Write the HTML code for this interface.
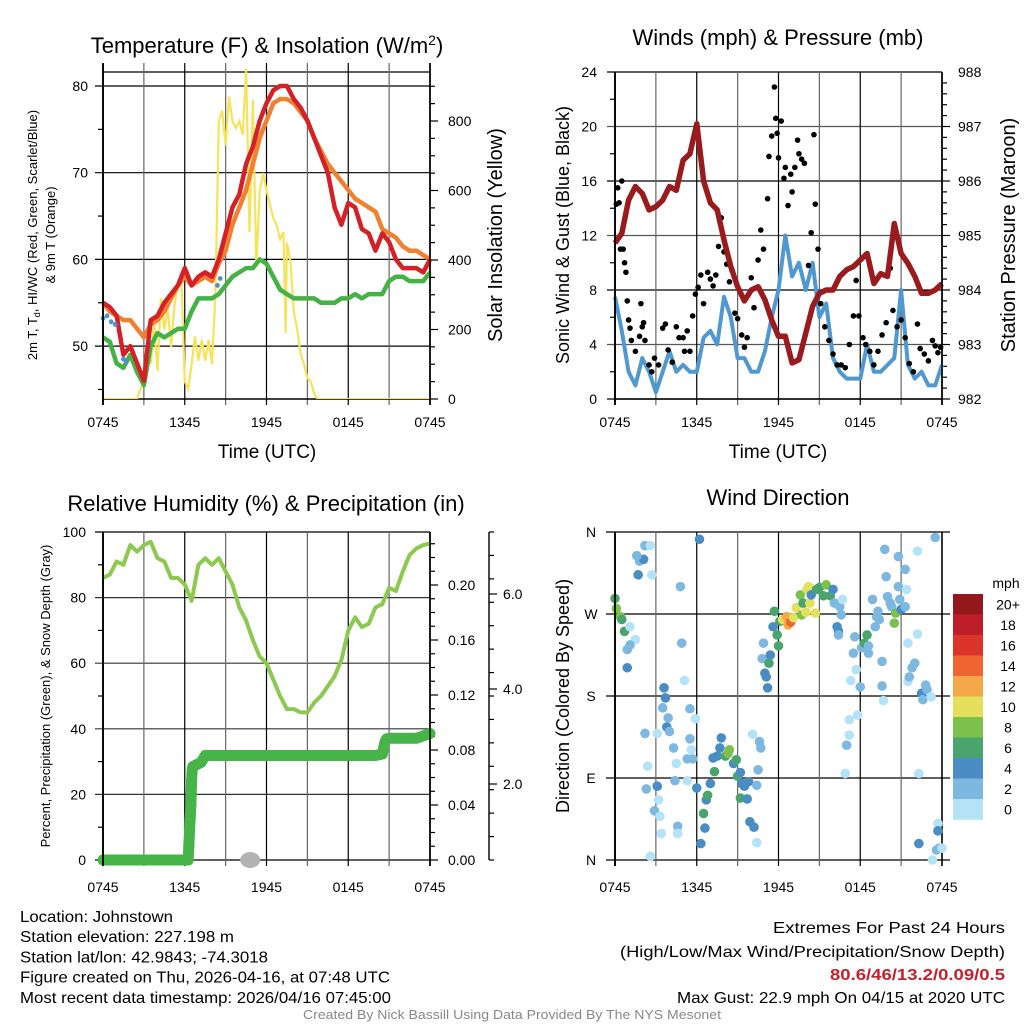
<!DOCTYPE html>
<html><head><meta charset="utf-8"><style>
html,body{margin:0;padding:0;background:#fff;}
svg{display:block;font-family:"Liberation Sans",sans-serif;}
.ft{font-family:"Liberation Sans Narrow","Liberation Sans",sans-serif;}
</style></head><body>
<svg id="chart" xmlns="http://www.w3.org/2000/svg" width="1024" height="1024" viewBox="0 0 1024 1024"></svg>
<script>
// ---------- DATA ----------
const halfHours = [0,0.5,1,1.5,2,2.5,3,3.5,4,4.5,5,5.5,6,6.5,7,7.5,8,8.5,9,9.5,10,10.5,11,11.5,12,12.5,13,13.5,14,14.5,15,15.5,16,16.5,17,17.5,18,18.5,19,19.5,20,20.5,21,21.5,22,22.5,23,23.5,24];
const timeTickLabels = ["0745","1345","1945","0145","0745"];
const tempRed = [55,54.5,53.5,49,50,48,46,53,53.5,55,56,57,59,57,58,58.5,58,60,63,66,67.5,71,73,76,78,79.5,80,80,78.5,77.5,76,74,72,70,66,64,66.5,66,63.5,63,61,63,62,60,59,59,59,58.5,60];
const temp9m = [55,54,53.5,53,53,52,51,52.5,53,54,55.5,57,58,57,57.5,58,57.5,59.5,61,64,66,68,71,74,76,78,78.5,78.5,78,77,76,74,72.5,71,70,69,68,67,66.5,66,65.5,63.5,63,62.5,61.5,61,61,60.5,60];
const dewGreen = [51,50.5,48,47.5,49,47,45.5,50,51.5,51,51.5,52,52,54,55.5,55.5,55.5,56,57,58,58.5,59,59,60,59.5,58,56.5,56,55.5,55.5,55.5,55.5,55,55,55,55.5,55.5,56,55.5,56,56,56,57.5,58,58,57.5,57.5,57.5,58.5];
const hiwcHours = [0,0.3,0.6,0.9,1.5,1.7,8.4,8.6];
const hiwcBlue = [53.2,53.5,52.8,52.5,48.5,48.2,57,57.8];
const solarHours = [0,2.5,2.75,3,3.25,3.5,3.75,4,4.25,4.5,4.75,5,5.25,5.5,5.75,6,6.25,6.5,6.75,7,7.25,7.5,7.75,8,8.25,8.5,8.75,9,9.25,9.5,9.75,10,10.25,10.5,10.75,11,11.25,11.5,11.75,12,12.25,12.5,12.75,13,13.25,13.4,13.5,13.75,14,14.25,14.5,14.75,15,15.25,15.5,15.75,24];
const solarYellow = [0,0,30,50,150,100,220,80,290,200,260,150,270,330,350,50,30,100,180,110,170,110,170,100,300,800,830,730,870,800,780,800,760,950,480,860,380,600,650,600,560,520,500,460,480,190,450,400,250,200,130,100,60,50,15,0,0];
const pressMaroon = [984.86,985.04,985.65,985.9,985.77,985.47,985.53,985.65,985.9,985.83,986.38,986.5,987.05,986.0,985.6,985.47,984.92,984.43,984.06,983.8,984.0,984.06,983.82,983.45,983.15,983.15,982.66,982.72,983.21,983.7,983.94,984.0,984.0,984.25,984.37,984.43,984.55,984.67,984.12,984.3,984.25,985.22,984.67,984.49,984.25,983.94,983.94,984.0,984.12];
const windBlue = [7.5,5,2,1,3,2,0.5,2,3.5,2,2.5,2,2,4.5,5,4,7.5,6,3,3,2,2,3.5,6,8,12,9,10,8,10,6,7,3,2,1.5,1.5,1.5,4,2,2,2.5,3,8,2.5,1.5,2,1,1,2.5];
const gustHours = [0.1,0.2,0.3,0.4,0.5,0.6,0.7,0.8,0.9,1.0,1.1,1.2,1.5,1.8,1.9,2.0,2.1,2.2,2.5,2.7,2.9,3.2,3.5,3.7,3.9,4.2,4.5,4.7,5.0,5.1,5.3,5.5,5.7,5.9,6.1,6.3,6.5,6.8,7.0,7.2,7.4,7.6,7.8,8.0,8.2,8.4,8.6,8.8,9.0,9.3,9.5,9.7,10.0,10.2,10.5,10.7,10.9,11.2,11.3,11.5,11.7,11.8,11.9,12.0,12.2,12.4,12.5,12.7,12.9,13.0,13.2,13.4,13.5,13.7,13.9,14.2,14.4,14.6,14.7,14.9,15.1,15.4,15.7,16.0,16.3,16.6,16.9,17.2,17.5,17.7,17.9,18.2,18.4,18.7,19.0,19.3,19.6,19.9,20.2,20.4,20.7,21.0,21.3,21.6,21.9,22.2,22.4,22.7,23.0,23.3,23.5,23.7,23.9];
const gustBlack = [14.3,15.5,14.4,11,16,11,10,9.3,7.2,5.8,5.2,4.3,3.5,4.6,7,5.3,5.6,4.3,2.5,2,3,2.5,5.2,5.5,3.6,2.7,5.3,4.5,4.5,3.5,5,3.5,6.1,7.7,8.2,9.1,7.0,9.3,8.8,8.3,9.1,11.2,13.3,10.8,9.9,8.6,9.4,6.3,5.9,4.7,3.8,4.5,8.9,6.7,10.2,12.4,11,14.7,17.8,19.3,22.9,20.6,19.5,17.7,20.4,16.2,17,14.2,16.5,15.2,17,19,18,17.6,17.3,9.8,12.2,19.4,14.3,11,7,5.3,4.3,3.3,2.5,2.5,2.3,4,6.1,8.7,6.1,4.5,4,3.5,2.5,3.5,4.7,5.6,9.6,6.5,5.3,5.8,4.5,2.6,2,5.5,3.7,3.3,2.8,4.3,3.9,3.4,3.8];
const rhGreen = [86,87,91,90,96,94,96,97,92,91,86,86,84,79,90,92,90,92,88,84,77,73,67,62,60,55,50,46,46,45,45,48,50,53,56,61,70,74,71,72,77,78,83,82,88,93,95,96,96.5];
const precipHours = [0,0.5,1,1.5,2,2.5,3,3.5,4,4.5,5,5.5,6,6.25,6.3,6.35,6.4,6.45,6.5,6.55,6.6,6.8,7.0,7.2,7.5,8,9,10,11,12,13,14,15,16,17,18,19,20,20.5,20.6,20.7,20.8,21,22,23,24];
const precipIn = [0,0,0,0,0,0,0,0,0,0,0,0,0,0,0.010,0.021,0.030,0.040,0.058,0.066,0.068,0.069,0.070,0.071,0.076,0.076,0.076,0.076,0.076,0.076,0.076,0.076,0.076,0.076,0.076,0.076,0.076,0.076,0.077,0.082,0.086,0.088,0.0885,0.0885,0.0885,0.092];
const snowHours = [10.8];
const snowDepth = [0];
const dirHours = [0,0.1,0.4,0.5,0.7,1.1,1.5,1.1,0.9,0.9,1.7,1.8,2.1,1.6,2.2,2.6,2.7,2.2,2.4,2.3,3.1,2.9,3.2,3.3,3.4,2.6,3.1,3.5,3.7,3.8,4.0,3.9,3.6,4.3,4.5,4.4,4.8,4.9,5.1,5.3,4.6,4.6,5.5,5.5,5.6,5.3,5.7,5.9,6.0,6.2,6.3,6.5,6.6,6.7,6.8,7.0,7.2,7.3,7.5,7.7,7.8,8.1,8.3,8.4,8.7,8.9,9.0,9.2,9.3,9.5,9.8,9.2,9.7,9.9,10.2,10.4,10.1,10.6,10.7,10.5,10.4,11.2,11.1,11.0,10.9,10.8,11.3,11.4,11.6,11.7,11.9,12.0,12.1,12.3,12.6,12.7,12.9,13.1,13.3,13.6,13.7,14.0,14.1,14.2,13.8,14.3,14.4,14.7,14.8,15.0,15.3,15.5,15.8,16.0,16.1,16.5,16.6,16.7,16.3,16.4,16.4,17.6,17.5,17.7,17.3,18.0,17.8,17.2,17.2,17.0,16.9,18.1,18.3,18.5,18.6,18.6,18.9,19.1,19.2,19.3,19.4,19.6,19.6,19.7,19.8,19.9,20.0,20.2,20.3,20.5,20.6,20.8,20.8,20.9,21.0,21.3,21.3,21.4,21.5,21.8,21.5,21.6,22.0,22.2,22.2,22.3,22.3,22.5,22.6,22.8,22.9,23.2,23.5,23.7,23.7,23.6,23.8,23.3,24.0];
const dirDeg = [287,276,267,264,251,256,242,236,231,211,313,328,330,334,345,345,313,139,103,78,81,54,66,48,29,4,139,167,178,146,141,156,189,123,106,87,300,238,197,87,37,29,166,133,121,111,111,155,79,352,18,51,35,66,71,84,112,97,114,123,134,114,117,121,106,110,92,96,84,81,86,68,67,42,36,19,138,130,123,99,82,189,201,205,238,221,216,225,256,273,247,235,262,264,267,258,261,266,277,291,269,272,297,300,282,282,291,271,297,299,290,302,290,297,282,278,269,286,256,251,247,245,227,209,197,190,159,154,137,126,95,233,238,247,235,227,286,256,267,273,264,218,191,175,341,311,289,282,278,260,271,300,333,286,275,319,278,297,238,211,196,201,216,248,339,95,18,183,176,192,187,179,354,40,32,11,13,0,13];
const dirSpeed = [7,8,8,6,6,1,0,2,2,4,4,3,4,2,2,0,0,2,0,2,4,2,0,0,0,0,0,2,4,4,2,2,4,2,0,2,2,2,0,0,2,0,2,2,0,2,2,0,4,4,4,6,4,4,6,4,4,6,4,4,4,6,8,8,4,6,6,4,4,4,4,6,4,4,4,0,0,2,2,2,2,4,4,4,2,2,6,4,4,6,6,6,6,10,12,12,14,10,10,8,8,10,10,10,6,10,4,10,6,6,6,8,6,4,2,2,2,0,4,4,2,2,2,0,0,2,0,0,0,2,0,2,6,6,2,2,2,2,2,2,2,2,2,0,2,2,2,2,2,8,8,2,2,2,4,2,2,0,0,2,0,2,2,0,0,0,4,4,2,2,2,0,2,0,4,2,2,0,0];
const speedBinLabels = ["0","2","4","6","8","10","12","14","16","18","20+"];
const speedColors = ["#b4e3f8","#7db8e1","#4a8dc4","#4aa46e","#7bc14b","#e5e05b","#f5a847","#ee6531","#db3529","#be1e27","#93181b"];

// ---------- HELPERS ----------
const NS = "http://www.w3.org/2000/svg";
const svg = document.getElementById("chart");
function mk(tag, attrs, parent, txt){
  const e = document.createElementNS(NS, tag);
  for (const k in attrs) e.setAttribute(k, attrs[k]);
  if (txt !== undefined) e.textContent = txt;
  (parent || svg).appendChild(e);
  return e;
}
function grp(name){
  const g = mk("g", {});
  
  
  return g;
}
function text(parent, name, x, y, s, size, anchor, extra){
  const a = Object.assign({x:x, y:y, "font-size":size, "text-anchor":anchor||"middle", fill:"#000"}, extra||{});
  const t = mk("text", a, parent, s);
  
  
  return t;
}
function line(parent, name, x1, y1, x2, y2, stroke, w){
  const l = mk("line", {x1:x1, y1:y1, x2:x2, y2:y2, stroke:stroke||"#000", "stroke-width":w||1.2}, parent);
  
  
  return l;
}
function pathFrom(xs, ys, fx, fy){
  return xs.map((v,i)=>(i?"L":"M")+fx(v).toFixed(1)+","+fy(ys[i]).toFixed(1)).join("");
}
function timeAxis(g, L, R, T, B, ext, labelY){
  const sx = h => L + h*(R-L)/24;
  for (let h=0; h<=24; h+=3){
    const gray = (h%6===3) ? "#666" : "#000";
    line(g, "x-gridline", sx(h), T-ext, sx(h), B+6, h===0||h===24?"#000":gray, h===0||h===24?1.6:1.2);
  }
  timeTickLabels.forEach((s,i)=>text(g, "x-tick-label", sx(i*6), labelY, s, 14));
  return sx;
}

// ---------- PANEL 1: TEMPERATURE ----------
(function(){
  const g = grp("temperature-panel");
  const L=103,R=430,T=72,B=399;
  const ty = v => 86 + (80 - v)*8.67;
  const sy = v => B - v*0.3475;
  const tt = text(g, "temperature-title", 267, 53, "Temperature (F) & Insolation (W/m", 22);
  const sup = mk("tspan", {dy:-8, "font-size":14}, tt, "2");  
  const cl = mk("tspan", {dy:8}, tt, ")");  
  [80,70,60,50].forEach(v=>{ line(g,"y-gridline",95,ty(v),R,ty(v)); text(g,"y-tick-label",88,ty(v)+5,String(v),14,"end"); });
  for (let v=45; v<=80; v+=5) if (v%10) line(g,"y-minor-tick",98,ty(v),L,ty(v));
  line(g,"plot-top",L,T,R,T);
  const sx = timeAxis(g, L, R, T, B, 9, 427);
  line(g,"plot-bottom",L,B,R,B,"#000",1.4);
  for (let v=0; v<=900; v+=50){ line(g,"right-tick",R,sy(v),R+(v%200===0?8:5),sy(v)); }
  [0,200,400,600,800].forEach(v=>text(g,"right-tick-label",448,sy(v)+5,String(v),14,"start"));
  text(g,"x-axis-title",267,458,"Time (UTC)",19);
  const yl = text(g,"y-axis-title",0,0,"2m T, T",13,"middle",{transform:"translate(37,235) rotate(-90)"});
  const sub = mk("tspan",{"font-size":9,dy:3},yl,"d");  
  const rest = mk("tspan",{dy:-3},yl,", HI/WC (Red, Green, Scarlet/Blue)");  
  text(g,"y-axis-title-line2",0,0,"& 9m T (Orange)",13,"middle",{transform:"translate(55,235) rotate(-90)"});
  text(g,"right-axis-title",0,0,"Solar Insolation (Yellow)",20,"middle",{transform:"translate(502,235) rotate(-90)"});
  const clip = mk("clipPath",{id:"c1"},g); mk("rect",{x:L,y:T-10,width:R-L,height:B-T+10},clip);
  const p1 = mk("path",{d:pathFrom(solarHours,solarYellow,sx,sy),fill:"none",stroke:"#f7e35a","stroke-width":2.2,"clip-path":"url(#c1)"},g);
   
  const p2 = mk("path",{d:pathFrom(halfHours,dewGreen,sx,ty),fill:"none",stroke:"#45b246","stroke-width":4.5,"stroke-linejoin":"round"},g);
   
  const p3 = mk("path",{d:pathFrom(halfHours,temp9m,sx,ty),fill:"none",stroke:"#f0812f","stroke-width":4.5,"stroke-linejoin":"round"},g);
   
  const p4 = mk("path",{d:pathFrom(halfHours,tempRed,sx,ty),fill:"none",stroke:"#d42027","stroke-width":4.5,"stroke-linejoin":"round"},g);
   
  hiwcHours.forEach((h,i)=>{ const c=mk("circle",{cx:sx(h),cy:ty(hiwcBlue[i]),r:2.4,fill:"#4b93cf"},g);   });
  line(g,"plot-left",L,T-9,L,B+6,"#000",1.8);
  line(g,"plot-right",R,T-9,R,B+6,"#000",1.4);
})();

// ---------- PANEL 2: WINDS ----------
(function(){
  const g = grp("winds-panel");
  const L=615,R=942,T=72,B=399;
  const wy = v => B - v*(B-T)/24;
  const py = v => B - (v-982)*(B-T)/6;
  text(g,"winds-title",778,45,"Winds (mph) & Pressure (mb)",22);
  for (let v=0; v<=24; v+=4){ line(g,"y-gridline",607,wy(v),R,wy(v), v%8===4?"#555":"#000"); text(g,"y-tick-label",597,wy(v)+5,String(v),14,"end"); }
  for (let v=2; v<24; v+=4) line(g,"y-minor-tick",610,wy(v),L,wy(v));
  const sx = timeAxis(g, L, R, T, B, 0, 427);
  for (let v=982; v<=988; v+=0.2){ line(g,"right-tick",R,py(v),R+(Math.abs(v-Math.round(v))<0.01?8:5),py(v)); }
  for (let v=982; v<=988; v++) text(g,"right-tick-label",958,py(v)+5,String(v),14,"start");
  text(g,"x-axis-title",778,458,"Time (UTC)",19);
  text(g,"y-axis-title",0,0,"Sonic Wind & Gust (Blue, Black)",18,"middle",{transform:"translate(569,235) rotate(-90)"});
  text(g,"right-axis-title",0,0,"Station Pressure (Maroon)",20,"middle",{transform:"translate(1015,235) rotate(-90)"});
  const p1 = mk("path",{d:pathFrom(halfHours,windBlue,sx,wy),fill:"none",stroke:"#4f98d0","stroke-width":4,"stroke-linejoin":"round"},g);
   
  gustHours.forEach((h,i)=>{ const c=mk("circle",{cx:sx(h),cy:wy(gustBlack[i]),r:2.8,fill:"#000"},g);   });
  const p2 = mk("path",{d:pathFrom(halfHours,pressMaroon,sx,py),fill:"none",stroke:"#9a1b1e","stroke-width":5.5,"stroke-linejoin":"round"},g);
   
  line(g,"plot-left",L,T,L,B+6,"#000",1.8);
  line(g,"plot-right",R,T,R,B+6,"#000",1.4);
  line(g,"plot-bottom",L,B,R,B,"#000",1.4);
})();

// ---------- PANEL 3: RH & PRECIP ----------
(function(){
  const g = grp("humidity-panel");
  const L=103,R=430,T=532,B=860;
  const ry = v => B - v*(B-T)/100;
  const py = v => B - v*1375;
  text(g,"humidity-title",266,511,"Relative Humidity (%) & Precipitation (in)",22);
  for (let v=0; v<=100; v+=20){ line(g,"y-gridline",95,ry(v),R,ry(v), v===0||v===100?"#000":"#333"); text(g,"y-tick-label",86,ry(v)+5,String(v),14,"end"); }
  for (let v=10; v<100; v+=20) line(g,"y-minor-tick",98,ry(v),L,ry(v));
  const sx = timeAxis(g, L, R, T, B, 0, 892);
  for (let v=0; v<=0.24; v+=0.01){ const k=Math.round(v*100); line(g,"right-tick",R,py(v),R+(k%4===0?8:5),py(v)); }
  ["0.00","0.04","0.08","0.12","0.16","0.20"].forEach((s,i)=>text(g,"precip-tick-label",448,py(i*0.04)+5,s,14,"start"));
  line(g,"snow-axis",489,T,489,B,"#000",1.4);
  for (let i=0;i<=14;i++){ const y=B - i*(B-T)/14; line(g,"snow-tick",489,y,494,y); }
  [["2.0",789],["4.0",694],["6.0",599]].forEach(a=>{ line(g,"snow-major-tick",489,a[1]-5,497,a[1]-5); text(g,"snow-tick-label",503,a[1],a[0],14,"start"); });
  text(g,"y-axis-title",0,0,"Percent, Precipitation (Green), & Snow Depth (Gray)",13,"middle",{transform:"translate(50,696) rotate(-90)"});
  const p1 = mk("path",{d:pathFrom(halfHours,rhGreen,sx,ry),fill:"none",stroke:"#8cc94f","stroke-width":4,"stroke-linejoin":"round"},g);
   
  const p2 = mk("path",{d:pathFrom(precipHours,precipIn,sx,py),fill:"none",stroke:"#46b448","stroke-width":11,"stroke-linejoin":"round","stroke-linecap":"round"},g);
   
  precipHours.forEach((h,i)=>{ if(h>=6.25 && h<=6.6){ const c=mk("circle",{cx:sx(h),cy:py(precipIn[i]),r:5.5,fill:"#46b448"},g);   }});
  snowHours.forEach((h,i)=>{ const c=mk("ellipse",{cx:sx(h),cy:py(snowDepth[i]),rx:10,ry:8,fill:"#b3b3b3"},g);   });
  line(g,"plot-left",L,T,L,B+6,"#000",1.8);
  line(g,"plot-right",R,T,R,B+6,"#000",1.4);
})();

// ---------- PANEL 4: WIND DIRECTION ----------
(function(){
  const g = grp("wind-direction-panel");
  const L=615,R=942,T=532,B=860;
  const dy = v => B - v*(B-T)/360;
  text(g,"wind-direction-title",778,505,"Wind Direction",22);
  [["N",0],["E",90],["S",180],["W",270],["N",360]].forEach(a=>{ line(g,"y-gridline",606,dy(a[1]),950,dy(a[1])); text(g,"y-tick-label",591,dy(a[1])+5,a[0],14,"middle"); });
  const sx = timeAxis(g, L, R, T, B, 0, 892);
  text(g,"y-axis-title",0,0,"Direction (Colored By Speed)",18,"middle",{transform:"translate(569,696) rotate(-90)"});
  dirHours.forEach((h,i)=>{
    const k = Math.min(10, Math.floor(dirSpeed[i]/2));
    const c = mk("circle",{cx:sx(h),cy:dy(dirDeg[i]),r:4.8,fill:speedColors[k]},g);
    
    
  });
  line(g,"plot-left",L,T,L,B+6,"#000",1.8);
  const lg = grp("speed-colorbar");
  text(lg,"colorbar-title",1006,588,"mph",14);
  const top=594, bh=20.5;
  for (let i=0;i<11;i++){
    const k = 10-i;
    const r = mk("rect",{x:953,y:top+i*bh,width:30,height:bh+0.3,fill:speedColors[k]},lg);
    
    
    text(lg,"colorbar-label",1008,top+i*bh+bh/2+5,speedBinLabels[k],14);
  }
})();

// ---------- FOOTER ----------
(function(){
  const g = grp("footer");
  const lines = ["Location: Johnstown","Station elevation: 227.198 m","Station lat/lon: 42.9843; -74.3018","Figure created on Thu, 2026-04-16, at 07:48 UTC","Most recent data timestamp: 2026/04/16 07:45:00"];
  const widths = [153,214,248,370,371];
  lines.forEach((s,i)=>{
    text(g,"station-info-line",20,922+i*20.2,s,16,"start",{class:"ft",textLength:widths[i],lengthAdjust:"spacingAndGlyphs"});
  });
  text(g,"extremes-heading",1005,933,"Extremes For Past 24 Hours",16,"end",{class:"ft",textLength:232,lengthAdjust:"spacingAndGlyphs"});
  text(g,"extremes-subheading",1005,957,"(High/Low/Max Wind/Precipitation/Snow Depth)",16,"end",{class:"ft",textLength:385,lengthAdjust:"spacingAndGlyphs"});
  text(g,"extremes-values",1005,980,"80.6/46/13.2/0.09/0.5",16,"end",{class:"ft",fill:"#c8202a","font-weight":"bold",textLength:175,lengthAdjust:"spacingAndGlyphs"});
  text(g,"max-gust",1005,1003,"Max Gust: 22.9 mph On 04/15 at 2020 UTC",16,"end",{class:"ft",textLength:328,lengthAdjust:"spacingAndGlyphs"});
  text(g,"credit",512,1019,"Created By Nick Bassill Using Data Provided By The NYS Mesonet",12.5,"middle",{class:"ft",fill:"#888",textLength:418,lengthAdjust:"spacingAndGlyphs"});
})();
</script>
</body></html>
